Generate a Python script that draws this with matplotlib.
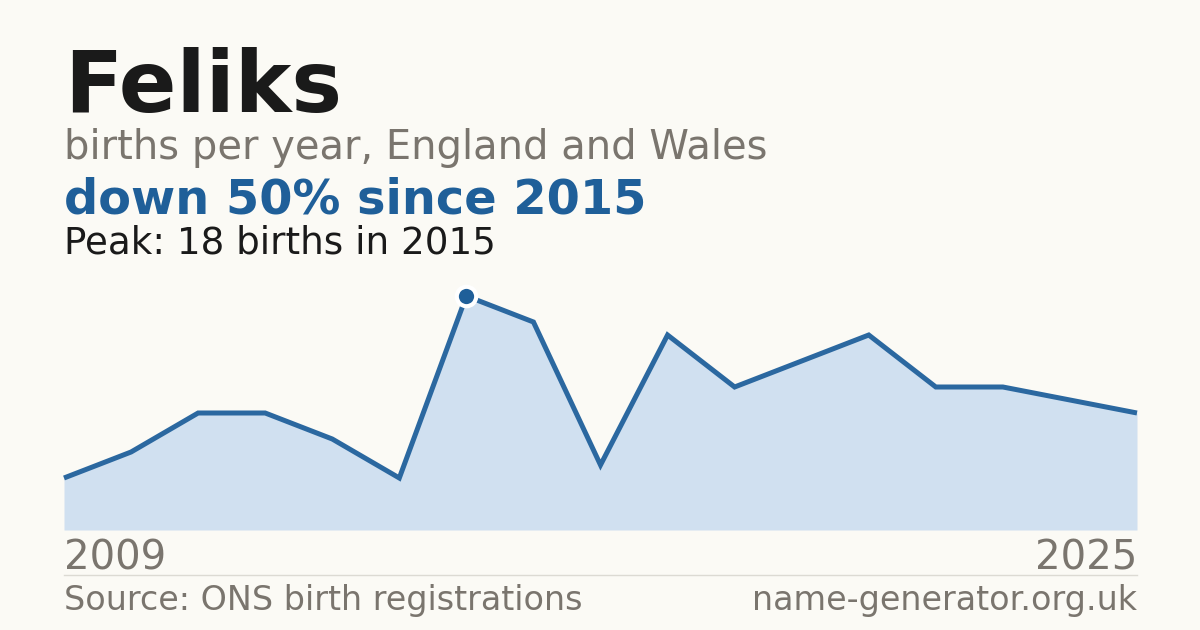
import matplotlib
matplotlib.use("Agg")
import matplotlib.pyplot as plt
from matplotlib.lines import Line2D

years = list(range(2009, 2026))
births = [4, 6, 9, 9, 7, 4, 18, 16, 5, 15, 11, 13, 15, 11, 11, 10, 9]

title = "Feliks"
subtitle = "births per year, England and Wales"
headline = "down 50% since 2015"
peak_text = "Peak: 18 births in 2015"
source = "Source: ONS birth registrations"
site = "name-generator.org.uk"

BG = "#fbfaf5"
BLUE = "#1f5f99"
LINE = "#2b68a0"
FILL = "#d0e0f0"
GREY = "#7a756e"

W, H = 1200, 630
fig = plt.figure(figsize=(W / 100, H / 100), dpi=100, facecolor=BG)

def fx(px):
    return px / W

def fy(py):
    return 1 - py / H

ax_left, ax_right, ax_top, ax_bot = 64, 1137, 280, 530
ax = fig.add_axes([fx(ax_left), fy(ax_bot), (ax_right - ax_left) / W, (ax_bot - ax_top) / H])
ax.set_facecolor(BG)
ymax = 18 * (ax_bot - ax_top) / (ax_bot - 296)
ax.set_xlim(years[0], years[-1])
ax.set_ylim(0, ymax)
ax.fill_between(years, births, 0, color=FILL, lw=0)
ax.plot(years, births, color=LINE, lw=3.6, solid_joinstyle="miter", solid_capstyle="butt", clip_on=False)
pk = births.index(max(births))
ax.plot(years[pk], births[pk], "o", ms=14, color=BLUE, mec="white", mew=3, clip_on=False, zorder=5)
ax.axis("off")

fig.text(fx(64), fy(112), title, fontsize=61.3, fontweight="bold", color="#1a1a1a", va="baseline")
fig.text(fx(64), fy(159), subtitle, fontsize=28.8, color=GREY, va="baseline")
fig.text(fx(64), fy(214), headline, fontsize=34.5, fontweight="bold", color=BLUE, va="baseline")
fig.text(fx(64), fy(254), peak_text, fontsize=26.8, color="#1a1a1a", va="baseline")
fig.text(fx(64), fy(569), str(years[0]), fontsize=29, color=GREY, va="baseline")
fig.text(fx(1137), fy(569), str(years[-1]), fontsize=29, color=GREY, va="baseline", ha="right")
fig.add_artist(Line2D([fx(64), fx(1137)], [fy(574.5), fy(574.5)], color="#dcdad3", lw=1))
fig.text(fx(64), fy(610), source, fontsize=24, color=GREY, va="baseline")
fig.text(fx(1137), fy(610), site, fontsize=24, color=GREY, va="baseline", ha="right")

fig.savefig("out.png", dpi=100, facecolor=BG)
